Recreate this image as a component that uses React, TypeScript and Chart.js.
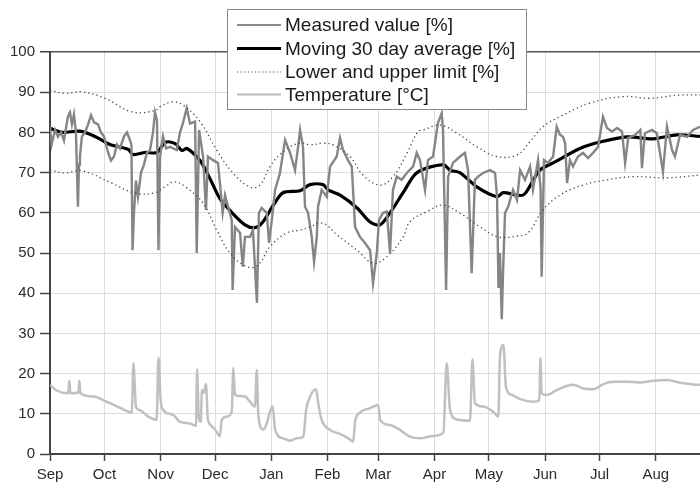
import React, { useEffect, useRef } from "react";
import { Chart, registerables } from "chart.js";

Chart.register(...registerables);

// x = days since 1 September
const monthTicks = [0, 30, 61, 91, 122, 153, 181, 212, 242, 273, 303, 334];
const monthLabels = ["Sep", "Oct", "Nov", "Dec", "Jan", "Feb", "Mar", "Apr", "May", "Jun", "Jul", "Aug"];

const measured: [number, number][] = [
  [0, 81.4], [0.9, 77], [2.8, 80.6], [4.4, 78.9], [6.1, 80], [7.7, 78], [8.8, 81], [9.9, 84], [11.0, 85],
  [12.1, 82], [13.2, 84.5], [14.3, 80], [15.4, 61.5], [16.0, 72], [16.5, 74], [17.6, 79], [19.3, 80],
  [21.0, 82], [22.6, 84.3], [24.3, 82.5], [26.5, 82], [28.1, 80], [29.8, 79], [32.0, 75], [33.6, 73],
  [35.3, 74], [36.9, 77], [38.6, 76], [40.8, 79], [42.5, 80], [44.1, 78], [44.9, 77], [45.5, 50.7],
  [46.3, 60], [47.4, 68], [48.5, 64], [50.2, 70], [51.8, 72], [53.5, 75], [55.1, 75.5], [56.8, 80],
  [57.9, 85], [59.0, 83], [59.8, 50.7], [60.7, 74], [62.3, 79], [64.0, 76], [66.2, 76.4], [69.9, 75.6],
  [71.7, 80], [73.3, 82.3], [75.4, 86], [77.2, 82.2], [80.0, 82.7], [80.9, 50], [82.2, 80.6], [84.4, 74],
  [86.0, 60.7], [87.1, 74], [89.9, 73.1], [92.6, 72.4], [93.7, 67.4], [95.2, 60], [96.5, 64.4], [98.2, 61.5],
  [100.2, 58.2], [100.7, 40.8], [102.0, 56.5], [104.8, 55], [106.3, 46.6], [107.5, 54], [110.3, 54],
  [111.9, 55.7], [114.1, 37.6], [115.2, 60], [116.7, 61.2], [119.5, 60], [120.8, 52.5], [122.3, 58.2],
  [124.1, 65.7], [126.8, 69.9], [129.6, 78.1], [132.3, 75], [135.1, 70.6], [136.8, 76.4], [137.9, 80.6],
  [139.5, 76.4], [140.6, 61.5], [142.3, 60], [144.3, 54], [145.6, 47.8], [147.1, 54], [147.8, 61.5],
  [149.8, 65.7], [152.6, 64], [154.4, 71.5], [158.1, 74], [159.9, 78.6], [161.6, 75.6], [164.3, 73.1],
  [166.4, 71.5], [168.2, 56.5], [170.9, 54], [173.7, 52.5], [176.5, 50.7], [178.1, 42.5], [180.2, 50],
  [181.4, 58.2], [183.6, 60], [185.7, 60.3], [187.5, 50], [189.1, 65.7], [191.2, 69], [193.9, 68.2],
  [196.7, 69.9], [200.2, 71.5], [202.2, 74.9], [204.0, 73.1], [206.8, 65.7], [208.4, 73.1], [211.2, 74],
  [213.9, 82.3], [216.0, 84.8], [216.7, 80.6], [218.4, 40.8], [219.5, 69], [222.2, 72.4], [226.1, 74],
  [228.8, 74.9], [230.5, 70.6], [232.5, 45], [234.3, 68.2], [236.0, 69], [238.8, 69.9], [242.6, 70.6],
  [245.4, 69.9], [246.5, 64], [247.3, 41.3], [248.1, 50], [249.1, 33.5], [249.8, 45], [250.9, 60],
  [252.6, 61.5], [255.3, 65.7], [257.5, 63.2], [259.2, 70.6], [261.9, 68.2], [264.7, 71.5], [266.3, 65.7],
  [269.1, 73.1], [270.5, 66], [271.1, 44.1], [272.4, 73.1], [274.6, 72.4], [277.4, 74], [279.4, 81.4],
  [281.2, 79.4], [282.9, 78.9], [284.0, 77.4], [285.1, 67.4], [286.7, 73.1], [288.4, 71.5], [291.1, 74],
  [293.9, 74.9], [296.7, 73.6], [299.4, 74.9], [302.2, 76.4], [304.9, 83.9], [307.1, 81.1], [309.9, 80.2],
  [312.7, 81.1], [315.4, 80.2], [317.1, 72.4], [318.8, 78.6], [322.7, 79.4], [325.5, 80.6], [326.4, 71.1],
  [328.0, 79.8], [331.9, 80.6], [334.6, 79.8], [338.0, 70.2], [340.2, 81.4], [343.0, 75.6], [344.6, 74],
  [347.4, 79.4], [351.3, 78.9], [354.6, 80.6], [358.4, 81.4],
];

const movingAverage: [number, number][] = [
  [0, 81], [6.6, 80], [16.5, 80.3], [24.8, 79], [33, 77], [43, 75.8], [45.8, 74.5], [52.4, 75], [59, 75],
  [63.4, 77.5], [69, 77.2], [72.8, 75.5], [75.5, 76], [82.7, 73], [88.2, 68.5], [93.7, 63.5], [100.4, 60],
  [107.5, 57], [113, 56.3], [117, 57.5], [124, 62.5], [128.5, 65], [137.9, 65.5], [143.4, 67], [150.5, 67],
  [153.3, 65.7], [160, 64.4], [169.3, 61.2], [176.5, 57.7], [182, 57], [187.5, 60], [194.7, 65], [202.4, 70],
  [216.7, 72], [220.6, 70.6], [226, 70], [235.5, 66.4], [246.5, 64], [249.8, 65], [260.8, 64.4], [266.3, 68],
  [270, 70.6], [277.4, 72.4], [292.2, 76], [303.3, 77.6], [318.2, 78.9], [332.5, 78.4], [345.7, 79.4], [358.4, 79],
];

const upperLimit: [number, number][] = [
  [0, 90.5], [8.3, 89.7], [17.5, 90.1], [30.3, 88.5], [45.1, 85.1], [57.9, 85.4], [60.7, 86.4], [67.8, 87.6],
  [73.3, 86.8], [82.7, 82.7], [91.9, 75.6], [100.9, 69.9], [110.3, 66.4], [115.8, 66.9], [121.3, 71.5],
  [128.5, 75.2], [137.9, 77.4], [143.4, 76.9], [150.5, 77.3], [156.1, 76.9], [165.4, 74], [172.6, 69.4],
  [182, 66.9], [189.1, 69], [196.9, 74.9], [202.9, 80.2], [205.7, 80.6], [215.1, 81.8], [224.4, 79.8],
  [235.5, 76.4], [246.5, 74], [257.5, 74.4], [264.7, 77.7], [271.8, 81.4], [281.2, 83.9], [297.8, 87.3],
  [316, 88.9], [330.9, 88.5], [347.4, 89.3], [358.4, 89.3],
];

const lowerLimit: [number, number][] = [
  [0, 70.6], [8.3, 69.9], [17.5, 70.5], [34, 67.4], [46.9, 64.9], [57.9, 65], [63.4, 66.5], [68.9, 67.7],
  [75.4, 66.2], [84.4, 62.4], [91.9, 55.7], [99.3, 50], [108.5, 46.6], [114.7, 47], [121.3, 51.6],
  [130.5, 55], [137.9, 55.7], [143.4, 56.5], [150.5, 57.4], [158.3, 54.5], [169.3, 50.7], [178.1, 47.5],
  [185.8, 49.1], [194.7, 54], [198.5, 57.8], [207.9, 60.3], [216.7, 61.9], [226.1, 59.9], [237.1, 56.5],
  [247, 54], [257.5, 54.2], [263.6, 55], [271.8, 60.7], [281.2, 64.4], [293.9, 66.9], [307.1, 68.2],
  [321.5, 69], [340.2, 68.7], [358.4, 69.4],
];

const temperature: [number, number][] = [
  [0, 17.2], [3.7, 15.8], [10.1, 15.1], [10.6, 18.2], [11.3, 15.1], [15.6, 15.3], [16.2, 18.2], [16.8, 15.1],
  [23.9, 14.3], [31.3, 13.0], [38.6, 11.5], [45.1, 10.3], [46.0, 22.6], [47.4, 11.8], [49.6, 10.9],
  [54.2, 9.3], [58.8, 8.5], [59.8, 24], [61.0, 13.4], [62.5, 10.9], [68.0, 9.7], [71.7, 8.0], [77.2, 7.6],
  [80.5, 7.0], [81.1, 21.1], [82.0, 9.3], [83.1, 8.0], [83.8, 15.9], [84.9, 15.3], [86.0, 17.4], [87.0, 8.9],
  [88.6, 7.2], [91.0, 6.1], [93.7, 4.5], [94.7, 8.5], [97.4, 9.3], [100.2, 10.5], [101.1, 21.4], [102.0, 14.7],
  [104.8, 14.4], [107.5, 14.3], [110.3, 13.0], [113.0, 11.8], [114.0, 20.9], [114.9, 9.3], [117.6, 6.1],
  [119.5, 7.6], [121.3, 10.5], [122.8, 11.8], [124.1, 6.0], [128.6, 3.9], [132.3, 3.3], [136.0, 3.9],
  [139.7, 4.3], [141.2, 10.9], [143.4, 14.3], [146.7, 16.1], [147.9, 12.6], [149.8, 8.5], [154.4, 6.0],
  [159.9, 5.0], [164.5, 3.9], [167.2, 3.1], [168.2, 8.0], [170.9, 10.3], [176.5, 11.4], [181.0, 12.2],
  [182.0, 8.5], [187.5, 7.2], [193.0, 6.0], [198.5, 4.3], [204.0, 3.9], [211.4, 4.5], [216.9, 5.3],
  [218.7, 22.6], [220.6, 10.9], [224.3, 8.6], [231.6, 8.3], [232.9, 23.6], [234.3, 12.6], [238.9, 11.8],
  [244.4, 10.5], [247.2, 9.3], [248.1, 24.2], [250.0, 27.1], [251.4, 16.7], [254.6, 14.7], [261.0, 13.4],
  [266.5, 13.0], [269.8, 13.3], [270.4, 23.8], [271.1, 15.1], [273.9, 14.7], [279.4, 15.9], [284.9, 16.9],
  [288.6, 17.2], [294.1, 16.3], [299.6, 16.1], [305.1, 17.4], [310.6, 18.0], [318.0, 18.0], [325.3, 17.8],
  [332.7, 18.2], [340.1, 18.4], [347.4, 17.7], [354.7, 17.3], [358.4, 17.2],
];

const legendLabels = ["Measured value [%]", "Moving 30 day average [%]", "Lower and upper limit [%]", "Temperature [\u00B0C]"];

const FONT = "'Liberation Sans', Arial, Helvetica, sans-serif";

const toXY = (arr: [number, number][]) => arr.map(([x, y]) => ({ x, y }));

const legendPlugin = {
  id: "boxLegend",
  afterDraw(chart: any) {
    const ctx = chart.ctx as CanvasRenderingContext2D;
    ctx.save();
    const bx = 227.5, by = 9.5, bw = 299, bh = 100;
    ctx.fillStyle = "#ffffff";
    ctx.fillRect(bx, by, bw, bh);
    ctx.strokeStyle = "#8a8a8a";
    ctx.lineWidth = 1;
    ctx.strokeRect(bx, by, bw, bh);
    const rows = [25, 48.5, 72, 94.5];
    const styles = [
      { color: "#8c8c8c", width: 2, dash: [] as number[] },
      { color: "#000000", width: 3, dash: [] as number[] },
      { color: "#555555", width: 1.2, dash: [1.2, 2.4] },
      { color: "#bcbcbc", width: 2, dash: [] as number[] },
    ];
    rows.forEach((ry, i) => {
      const s = styles[i];
      ctx.beginPath();
      ctx.setLineDash(s.dash);
      ctx.strokeStyle = s.color;
      ctx.lineWidth = s.width;
      ctx.moveTo(237, ry);
      ctx.lineTo(281, ry);
      ctx.stroke();
      ctx.setLineDash([]);
      ctx.fillStyle = "#1a1a1a";
      ctx.font = `19px ${FONT}`;
      ctx.textBaseline = "middle";
      ctx.textAlign = "left";
      ctx.fillText(legendLabels[i], 285, ry + 1);
    });
    ctx.restore();
  },
};

export default function App() {
  const ref = useRef<HTMLCanvasElement | null>(null);

  useEffect(() => {
    if (!ref.current) return;
    const chart = new Chart(ref.current, {
      type: "line",
      data: {
        datasets: [
          {
            label: "Temperature [°C]",
            data: toXY(temperature),
            borderColor: "#c0c0c0",
            borderWidth: 2.5,
            pointRadius: 0,
            cubicInterpolationMode: "monotone",
          },
          {
            label: "Lower limit",
            data: toXY(lowerLimit),
            borderColor: "#4a4a4a",
            borderWidth: 1.3,
            borderDash: [1.3, 3],
            pointRadius: 0,
            tension: 0.4,
          },
          {
            label: "Upper limit",
            data: toXY(upperLimit),
            borderColor: "#4a4a4a",
            borderWidth: 1.3,
            borderDash: [1.3, 3],
            pointRadius: 0,
            tension: 0.4,
          },
          {
            label: "Measured value [%]",
            data: toXY(measured),
            borderColor: "#858585",
            borderWidth: 2.4,
            pointRadius: 0,
            tension: 0,
          },
          {
            label: "Moving 30 day average [%]",
            data: toXY(movingAverage),
            borderColor: "#000000",
            borderWidth: 3.2,
            pointRadius: 0,
            tension: 0.3,
          },
        ],
      },
      options: {
        animation: false,
        responsive: false,
        devicePixelRatio: 1,
        layout: { padding: { top: 52, left: 0, right: 0, bottom: 0 } },
        plugins: {
          legend: { display: false },
          tooltip: { enabled: false },
        },
        scales: {
          x: {
            type: "linear",
            min: 0,
            max: 358.4,
            afterBuildTicks: (scale: any) => {
              scale.ticks = monthTicks.map((v) => ({ value: v }));
            },
            afterFit: (scale: any) => {
              scale.height = 29;
            },
            ticks: {
              autoSkip: false,
              maxRotation: 0,
              padding: 5,
              color: "#2a2a2a",
              font: { family: FONT, size: 15 },
              callback: (value: any) => {
                const i = monthTicks.indexOf(Number(value));
                return i >= 0 ? monthLabels[i] : "";
              },
            },
            grid: {
              color: "#dcdcdc",
              lineWidth: 1,
              tickColor: "#444444",
              tickLength: 7,
              tickWidth: 1.5,
            },
            border: { color: "#444444", width: 2 },
          },
          y: {
            min: 0,
            max: 100,
            afterFit: (scale: any) => {
              scale.width = 50;
            },
            ticks: {
              stepSize: 10,
              padding: 5,
              color: "#2a2a2a",
              font: { family: FONT, size: 15 },
            },
            grid: {
              color: (c: any) => (c.tick && c.tick.value === 100 ? "#555555" : "#dcdcdc"),
              lineWidth: (c: any) => (c.tick && c.tick.value === 100 ? 1.5 : 1),
              tickColor: "#444444",
              tickLength: 10,
              tickWidth: 1.5,
            },
            border: { color: "#444444", width: 2 },
          },
        },
      },
      plugins: [legendPlugin],
    });
    return () => chart.destroy();
  }, []);

  return (
    <div style={{ position: "fixed", left: 0, top: 0, width: 700, height: 483, background: "#ffffff" }}>
      <canvas ref={ref} width={700} height={483} />
    </div>
  );
}
